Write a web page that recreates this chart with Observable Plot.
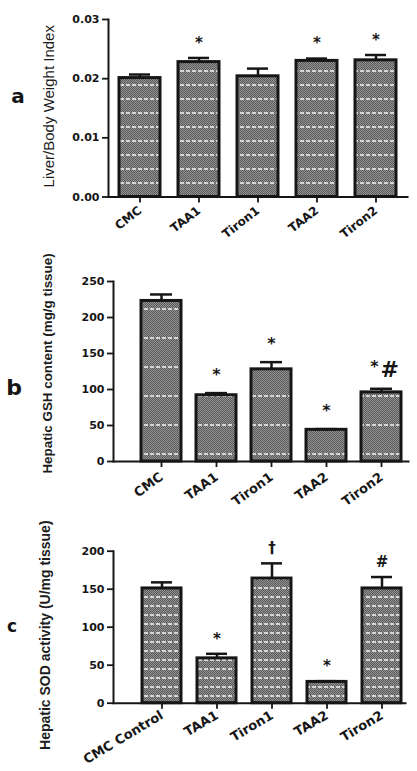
<!DOCTYPE html>
<html>
<head>
<meta charset="utf-8">
<script src="https://cdn.jsdelivr.net/npm/d3@7"></script>
<script src="https://cdn.jsdelivr.net/npm/@observablehq/plot@0.6"></script>
<style>
  body { margin: 0; background: #fff; }
  #fig { position: relative; width: 417px; height: 771px; overflow: hidden; background: #fff; }
  .panel { position: absolute; left: 0; }
  .panel svg { overflow: visible; }
  .letter { position: absolute; transform: translate(-50%, -50%); line-height: 1;
            font-family: "DejaVu Sans", sans-serif; font-weight: bold; color: #151515; }
</style>
</head>
<body>
<div id="fig"></div>
<script>
// Treatment groups
const groups = ["CMC", "TAA1", "Tiron1", "TAA2", "Tiron2"];
const groupsSod = ["CMC Control", "TAA1", "Tiron1", "TAA2", "Tiron2"];

// (a) liver / body weight index, mean and SEM
const liverIndex = [0.0201, 0.0228, 0.0204, 0.0230, 0.0231];
const liverSem = [0.0006, 0.0007, 0.0013, 0.0004, 0.0009];
const liverSig = ["", "*", "", "*", "*"];
const liverTicks = [0, 0.01, 0.02, 0.03];

// (b) hepatic GSH content (mg/g tissue)
const gsh = [223, 92, 128, 44, 96];
const gshSem = [9, 3, 10, 1, 5];
const gshSig = ["", "*", "*", "*", "*"];
const gshSig2 = ["", "", "", "", "#"];
const gshTicks = [0, 50, 100, 150, 200, 250];

// (c) hepatic SOD activity (U/mg tissue)
const sod = [151, 59, 164, 28, 151];
const sodSem = [8, 6, 20, 1, 15];
const sodSig = ["", "*", "†", "*", "#"];
const sodTicks = [0, 50, 100, 150, 200];

const INK = "#161616";
const fig = document.getElementById("fig");

// textured grey fill with light dashed stripes
function addFill(svg, id, gap) {
  const defs = document.createElementNS("http://www.w3.org/2000/svg", "defs");
  defs.innerHTML = `
    <pattern id="chk-${id}" width="2" height="2" patternUnits="userSpaceOnUse">
      <rect width="2" height="2" fill="#939393"/>
      <rect width="1" height="1" fill="#5a5a5a"/>
      <rect x="1" y="1" width="1" height="1" fill="#5a5a5a"/>
    </pattern>
    <pattern id="fill-${id}" width="6" height="${gap}" patternUnits="userSpaceOnUse">
      <rect width="6" height="${gap}" fill="url(#chk-${id})"/>
      <rect x="0" y="0" width="4" height="2" fill="#d6d6d6"/>
    </pattern>`;
  svg.insertBefore(defs, svg.firstChild);
}

function panel(o) {
  const rows = o.labels.map((g, i) => ({
    group: g, value: o.values[i], hi: o.values[i] + o.sem[i],
    sig: o.sig[i], sig2: o.sig2 ? o.sig2[i] : ""
  }));
  const svg = Plot.plot({
    width: 417, height: o.height,
    marginTop: o.marginTop, marginBottom: o.marginBottom,
    marginLeft: o.marginLeft, marginRight: o.marginRight,
    style: { fontFamily: "DejaVu Sans, sans-serif", fontWeight: "bold", color: INK, background: "white" },
    x: { domain: o.labels, paddingInner: o.pi, paddingOuter: o.po, insetLeft: o.insetLeft || 0 },
    y: { domain: o.domain },
    marks: [
      Plot.barY(rows, { x: "group", y: "value", fill: `url(#fill-${o.id})` }),
      Plot.barY(rows, { x: "group", y: "value", fill: "none", stroke: INK, strokeWidth: 3 }),
      Plot.ruleX(rows, { x: "group", y1: "value", y2: "hi", stroke: INK, strokeWidth: 2.5 }),
      Plot.tickY(rows, { x: "group", y: "hi", stroke: INK, strokeWidth: 2.5, insetLeft: o.cap, insetRight: o.cap }),
      Plot.text(rows, { filter: d => !d.sig2, x: "group", y: "hi", text: "sig", dy: o.sigDy, fontSize: o.sigSize, fill: INK }),
      Plot.text(rows, { filter: d => d.sig2, x: "group", y: "hi", text: "sig", dy: o.sigDy - 4, dx: -3, textAnchor: "end", fontSize: o.sigSize, fill: INK }),
      Plot.text(rows, { filter: d => d.sig2, x: "group", y: "hi", text: "sig2", dy: o.sigDy - 1, dx: -1, textAnchor: "start", fontSize: o.sig2Size || o.sigSize, fill: INK }),
      Plot.frame({ anchor: "left", stroke: INK, strokeWidth: 2 }),
      Plot.frame({ anchor: "bottom", stroke: INK, strokeWidth: 2 }),
      Plot.axisY({ ticks: o.ticks, tickFormat: o.tickFormat, tickSize: 6, tickPadding: 3,
                   fontSize: 11, strokeWidth: 1.8, label: null }),
      Plot.axisX({ tickRotate: o.rotate, tickSize: 6, tickPadding: o.tickPadding, fontSize: o.xFont,
                   strokeWidth: 1.8, label: null }),
      Plot.text([o.yLabel], { text: d => d, frameAnchor: "left", textAnchor: "middle", rotate: -90,
                   dx: o.titleDx, dy: o.titleDy,
                   fontFamily: "Liberation Sans, Arial, sans-serif", fontWeight: o.titleWeight,
                   fontSize: o.titleSize, fill: "#1c1c1c" })
    ]
  });
  addFill(svg, o.id, o.gap);
  const wrap = document.createElement("div");
  wrap.className = "panel";
  wrap.style.top = o.top + "px";
  wrap.appendChild(svg);
  fig.appendChild(wrap);

  const letter = document.createElement("div");
  letter.className = "letter";
  letter.textContent = o.letter;
  letter.style.left = o.letterX + "px";
  letter.style.top = o.letterY + "px";
  letter.style.fontSize = o.letterSize + "px";
  fig.appendChild(letter);
}

panel({
  id: "a", top: 0, height: 250, marginTop: 19, marginBottom: 53.5, marginLeft: 108, marginRight: 10,
  labels: groups, values: liverIndex, sem: liverSem, sig: liverSig,
  domain: [0, 0.03], ticks: liverTicks, tickFormat: d3.format(".2f"),
  pi: 0.3, po: 0.17, cap: 10, gap: 14, sigDy: -15, sigSize: 15,
  rotate: -38, tickPadding: 6, xFont: 12,
  yLabel: "Liver/Body Weight Index", titleDx: -59, titleDy: -2, titleSize: 15, titleWeight: "normal",
  letter: "a", letterX: 18, letterY: 96, letterSize: 20
});

panel({
  id: "b", top: 250, height: 265, marginTop: 31, marginBottom: 54, marginLeft: 113, marginRight: 9,
  labels: groups, values: gsh, sem: gshSem, sig: gshSig, sig2: gshSig2,
  domain: [0, 250], ticks: gshTicks, tickFormat: d3.format("d"),
  pi: 0.28, po: 0.1, insetLeft: 21.5, cap: 9, gap: 29, sigDy: -18, sigSize: 16, sig2Size: 22,
  rotate: -36, tickPadding: 8, xFont: 13,
  yLabel: "Hepatic GSH content (mg/g tissue)", titleDx: -66, titleDy: -8, titleSize: 13.4, titleWeight: "bold",
  letter: "b", letterX: 14, letterY: 388, letterSize: 22
});

panel({
  id: "c", top: 515, height: 256, marginTop: 35.7, marginBottom: 68.3, marginLeft: 113, marginRight: 12,
  labels: groupsSod, values: sod, sem: sodSem, sig: sodSig,
  domain: [0, 200], ticks: sodTicks, tickFormat: d3.format("d"),
  pi: 0.29, po: 0.054, insetLeft: 25, cap: 9, gap: 9, sigDy: -15, sigSize: 15,
  rotate: -31, tickPadding: 5, xFont: 13,
  yLabel: "Hepatic SOD activity (U/mg tissue)", titleDx: -68, titleDy: 8, titleSize: 14, titleWeight: "bold",
  letter: "c", letterX: 12, letterY: 626, letterSize: 17
});
</script>
</body>
</html>
